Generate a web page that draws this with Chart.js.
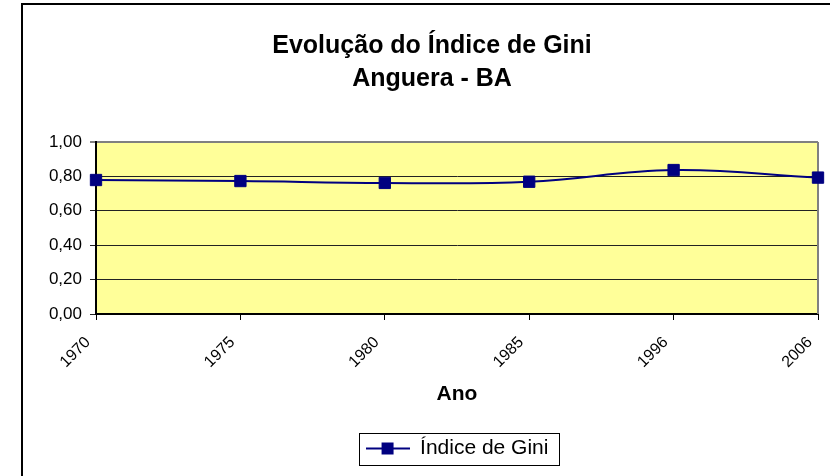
<!DOCTYPE html>
<html>
<head>
<meta charset="utf-8">
<script src="https://cdn.jsdelivr.net/npm/chart.js@4/dist/chart.umd.min.js"></script>
<style>
  html, body { margin: 0; padding: 0; background: #fff; }
  canvas { display: block; }
</style>
</head>
<body>
<canvas id="myChart" width="830" height="476"></canvas>
<script>
var categories = ["1970", "1975", "1980", "1985", "1996", "2006"];
var giniValues = [0.779, 0.773, 0.762, 0.769, 0.837, 0.793];
var yTickLabels = ["0,00", "0,20", "0,40", "0,60", "0,80", "1,00"];

var NAVY = "#000080";

// amostra da legenda: linha com o quadrado no meio
var legendSample = document.createElement("canvas");
legendSample.width = 44;
legendSample.height = 14;
(function () {
    var c = legendSample.getContext("2d");
    c.strokeStyle = NAVY;
    c.lineWidth = 2;
    c.beginPath();
    c.moveTo(0, 7);
    c.lineTo(44, 7);
    c.stroke();
    c.fillStyle = NAVY;
    c.fillRect(16, 1, 12, 12);
})();

var excelLook = {
    id: "excelLook",
    beforeDraw: function (chart) {
        var ctx = chart.ctx, a = chart.chartArea;
        ctx.save();
        ctx.fillStyle = "#000";
        ctx.fillRect(21, 3, 2, 473);
        ctx.fillRect(21, 3, 809, 2);
        ctx.fillStyle = "#FFFF99";
        ctx.fillRect(a.left, a.top, a.right - a.left, a.bottom - a.top);
        ctx.restore();
    },
    beforeDatasetsDraw: function (chart) {
        var ctx = chart.ctx, a = chart.chartArea;
        ctx.save();
        ctx.strokeStyle = "#808080";
        ctx.lineWidth = 2;
        ctx.beginPath();
        ctx.moveTo(a.right, a.top);
        ctx.lineTo(a.right, a.bottom);
        ctx.stroke();
        ctx.restore();
    },
    afterDraw: function (chart) {
        var hb = chart.legend.legendHitBoxes[0];
        if (!hb) return;
        var ctx = chart.ctx;
        var cy = hb.top + hb.height / 2;
        ctx.save();
        ctx.strokeStyle = "#000";
        ctx.lineWidth = 1;
        ctx.strokeRect(Math.round(hb.left - 7) + 0.5, Math.round(cy - 16) + 0.5, Math.round(hb.width + 17), 32);
        ctx.restore();
    }
};

Chart.defaults.font.family = "'Liberation Sans', Arial, sans-serif";
Chart.defaults.color = "#000";

var ctx = document.getElementById("myChart").getContext("2d");
var myChart = new Chart(ctx, {
    type: "line",
    data: {
        labels: categories,
        datasets: [{
            label: "Índice de Gini",
            data: giniValues,
            borderColor: NAVY,
            borderWidth: 2,
            tension: 0.4,
            pointStyle: "rect",
            pointRadius: 8,
            pointBorderWidth: 1,
            pointBackgroundColor: NAVY,
            pointBorderColor: NAVY,
            clip: false,
            fill: false
        }]
    },
    options: {
        responsive: false,
        animation: false,
        layout: { padding: { left: 46, right: 12, top: 0, bottom: 7 } },
        plugins: {
            title: {
                display: true,
                text: ["Evolução do Índice de Gini", "Anguera - BA"],
                font: { size: 25, weight: "bold", lineHeight: 1.32 },
                padding: { top: 29.5, bottom: 46.5 }
            },
            legend: {
                position: "bottom",
                fullSize: false,
                labels: {
                    font: { size: 21 },
                    usePointStyle: true,
                    pointStyle: legendSample,
                    pointStyleWidth: 44,
                    padding: 10
                }
            },
            tooltip: { enabled: false }
        },
        scales: {
            x: {
                offset: false,
                afterFit: function (s) { s.height = 114; s.paddingLeft = 0; s.paddingRight = 0; },
                border: { display: true, color: "#000", width: 2 },
                grid: { drawOnChartArea: false, drawTicks: true, tickLength: 6, color: "#000" },
                ticks: { minRotation: 45, maxRotation: 45, padding: 13, labelOffset: -8, font: { size: 16 } },
                title: { display: true, text: "Ano", font: { size: 21, weight: "bold" }, padding: { top: 0, bottom: 21 } }
            },
            y: {
                min: 0,
                max: 1,
                afterFit: function (s) { s.width = 50; },
                border: { display: true, color: "#000", width: 2 },
                grid: {
                    tickLength: 6,
                    color: function (c) { return c.tick && c.tick.value === 1 ? "#808080" : "#222"; },
                    lineWidth: function (c) { return c.tick && c.tick.value === 1 ? 2 : 1; }
                },
                ticks: {
                    stepSize: 0.2,
                    padding: 8,
                    font: { size: 17 },
                    callback: function (value, index) { return yTickLabels[index]; }
                }
            }
        }
    },
    plugins: [excelLook]
});
</script>
</body>
</html>
